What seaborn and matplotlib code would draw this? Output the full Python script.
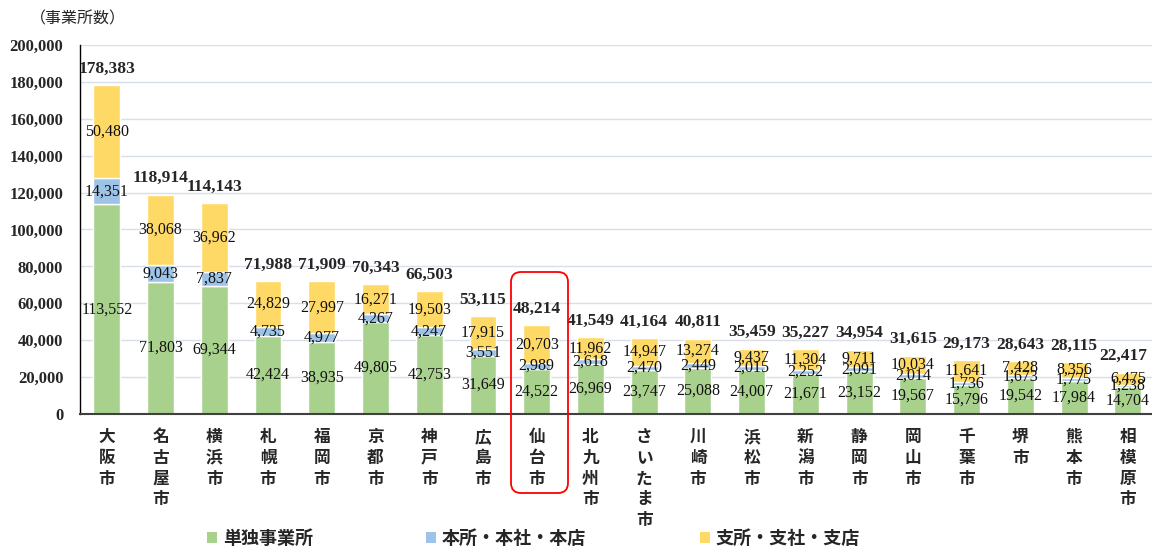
import matplotlib
matplotlib.use("Agg")
import matplotlib.pyplot as plt
import seaborn as sns
import pandas as pd
from matplotlib.patches import Patch, FancyBboxPatch
from matplotlib.ticker import FuncFormatter

# data
cities = ["大阪市", "名古屋市", "横浜市", "札幌市", "福岡市", "京都市", "神戸市", "広島市",
          "仙台市", "北九州市", "さいたま市", "川崎市", "浜松市", "新潟市", "静岡市",
          "岡山市", "千葉市", "堺市", "熊本市", "相模原市"]
single = [113552, 71803, 69344, 42424, 38935, 49805, 42753, 31649, 24522, 26969,
          23747, 25088, 24007, 21671, 23152, 19567, 15796, 19542, 17984, 14704]
head = [14351, 9043, 7837, 4735, 4977, 4267, 4247, 3551, 2989, 2618,
        2470, 2449, 2015, 2252, 2091, 2014, 1736, 1673, 1775, 1238]
branch = [50480, 38068, 36962, 24829, 27997, 16271, 19503, 17915, 20703, 11962,
          14947, 13274, 9437, 11304, 9711, 10034, 11641, 7428, 8356, 6475]
totals = [178383, 118914, 114143, 71988, 71909, 70343, 66503, 53115, 48214, 41549,
          41164, 40811, 35459, 35227, 34954, 31615, 29173, 28643, 28115, 22417]
series_names = ["単独事業所", "本所・本社・本店", "支所・支社・支店"]
colors = ["#A9D18E", "#9DC3E6", "#FFD966"]

df = pd.DataFrame({"city": cities, "single": single, "head": head, "branch": branch})
df["bottom_head"] = df["single"]
df["bottom_branch"] = df["single"] + df["head"]

sns.set_style("white")
plt.rcParams["font.family"] = ["Noto Sans CJK JP", "DejaVu Sans"]
serif = "Liberation Serif"

fig = plt.figure(figsize=(11.52, 5.48), dpi=100)
ax = fig.add_axes([0.0694, 0.2445, 0.9306, 0.6735])

sns.barplot(data=df, x="city", y="single", color=colors[0], width=0.5, saturation=1, ax=ax)
sns.barplot(data=df, x="city", y="head", bottom=df["bottom_head"], color=colors[1],
            width=0.5, saturation=1, ax=ax)
sns.barplot(data=df, x="city", y="branch", bottom=df["bottom_branch"], color=colors[2],
            width=0.5, saturation=1, ax=ax)

fmt = lambda v: f"{v:,.0f}"
for cont in ax.containers:
    ax.bar_label(cont, labels=[fmt(b.get_height()) for b in cont], label_type="center",
                 fontsize=11.5, family=serif, color="#111111")

# totals above the bars
for i, t in enumerate(totals):
    dx = -3 if i == len(totals) - 1 else 0
    ax.annotate(fmt(t), (i, t), xytext=(dx, 6), textcoords="offset points",
                ha="center", va="bottom", fontsize=12.5, fontweight="bold", family=serif)

ax.set_ylim(0, 200000)
ax.set_xlim(-0.5, 19.45)
ax.set_yticks(range(0, 200001, 20000))
ax.yaxis.set_major_formatter(FuncFormatter(lambda v, p: f"{v:,.0f}"))
for lab in ax.get_yticklabels():
    lab.set_family(serif)
    lab.set_fontweight("bold")
    lab.set_fontsize(12)
ax.tick_params(axis="y", length=0, pad=12)
ax.tick_params(axis="x", length=0, pad=10)
ax.set_xticks(range(len(cities)))
ax.set_xticklabels(["\n".join(c) for c in cities], fontsize=12, fontweight="bold",
                   va="top", linespacing=1.2)
ax.set_xlabel("")
ax.set_ylabel("")
ax.grid(axis="y", color="#D9DFEA", linewidth=1)
ax.set_axisbelow(True)
for s in ["top", "right"]:
    ax.spines[s].set_visible(False)
ax.spines["left"].set_color("black")
ax.spines["left"].set_linewidth(1)
ax.spines["bottom"].set_color("#404040")
ax.spines["bottom"].set_linewidth(1.5)

fig.text(0.026, 0.965, "（事業所数）", fontsize=11.5, va="center", ha="left")

# red frame around Sendai
frame = FancyBboxPatch((5.11, 0.55), 0.57, 2.21, boxstyle="round,pad=0,rounding_size=0.1",
                       transform=fig.dpi_scale_trans, fill=False, edgecolor="#FF0000",
                       linewidth=1.3, clip_on=False)
fig.patches.append(frame)

handles = [Patch(facecolor=c, edgecolor="none", label=n) for c, n in zip(colors, series_names)]
fig.legend(handles=handles, loc="center", bbox_to_anchor=(0.463, 0.018), ncol=3, frameon=False,
           handlelength=0.55, handleheight=0.55, handletextpad=0.3,
           columnspacing=6.3, prop={"weight": "bold", "size": 13})

fig.savefig("out.png", dpi=100)
